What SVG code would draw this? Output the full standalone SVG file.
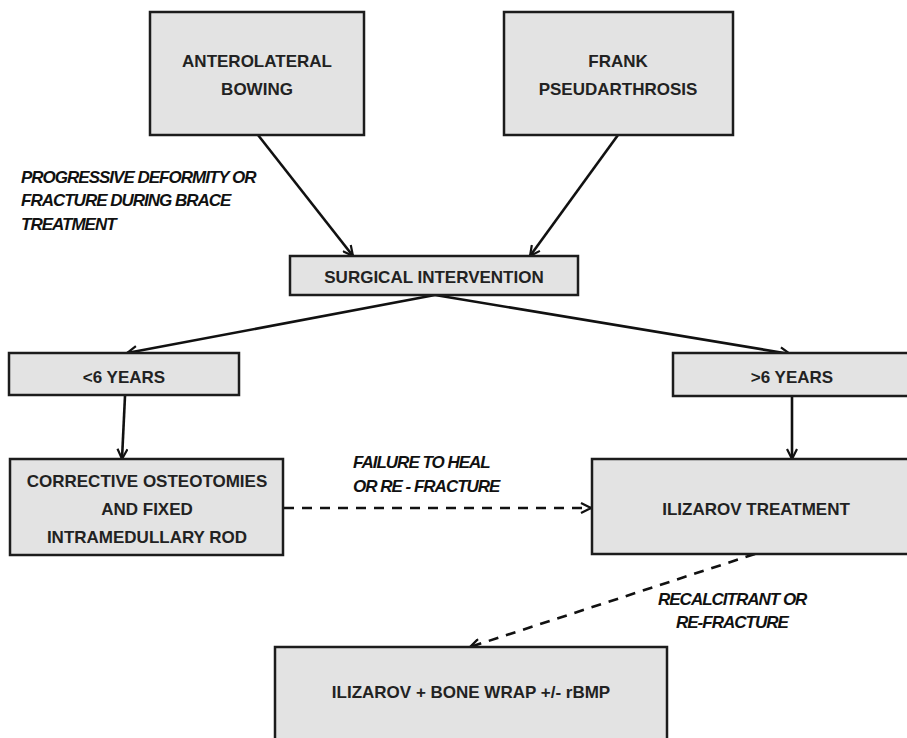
<svg xmlns="http://www.w3.org/2000/svg" width="907" height="738" viewBox="0 0 907 738">
<style>
.box{fill:#e3e3e3;stroke:#1c1c1c;stroke-width:2.5}
.t{font-family:"Liberation Sans",Arial,sans-serif;font-weight:bold;font-size:17px;fill:#222;text-anchor:middle}
.lbl{font-family:"Liberation Sans",Arial,sans-serif;font-weight:bold;font-style:italic;font-size:17px;fill:#111;letter-spacing:-1px}
.c{stroke:#111;stroke-width:2.6;fill:none;marker-end:url(#ah)}
.d{stroke-dasharray:10 8}
</style>
<defs>
<marker id="ah" viewBox="0 0 12 12" refX="11" refY="6" markerWidth="12" markerHeight="12" markerUnits="userSpaceOnUse" orient="auto">
<path d="M1,1 L11,6 L1,11" fill="none" stroke="#111" stroke-width="2.2"/>
</marker>
</defs>
<rect width="907" height="738" fill="#fff"/>
<g id="connectors">
<line class="c" x1="258" y1="135" x2="353" y2="256"/>
<line class="c" x1="618" y1="135" x2="530" y2="256"/>
<line class="c" x1="435" y1="295" x2="127" y2="353"/>
<line class="c" x1="435" y1="295" x2="790" y2="354"/>
<line class="c" x1="125" y1="396" x2="122" y2="459"/>
<line class="c" x1="792" y1="396" x2="792" y2="459"/>
<line class="c d" x1="284" y1="508" x2="591" y2="508"/>
<line class="c d" x1="755" y1="554" x2="470" y2="647"/>
</g>
<g id="label-progressive">
<text class="lbl" x="21" y="183">PROGRESSIVE DEFORMITY OR</text>
<text class="lbl" x="21" y="206">FRACTURE DURING BRACE</text>
<text class="lbl" x="21" y="230">TREATMENT</text>
</g>
<g id="label-failure">
<text class="lbl" x="353" y="468">FAILURE TO HEAL</text>
<text class="lbl" x="353" y="492">OR RE - FRACTURE</text>
</g>
<g id="label-recalcitrant">
<text class="lbl" x="658" y="605">RECALCITRANT OR</text>
<text class="lbl" x="676" y="628">RE-FRACTURE</text>
</g>
<g id="anterolateral">
<rect class="box" x="150" y="12" width="214" height="123"/>
<text class="t" x="257" y="67">ANTEROLATERAL</text>
<text class="t" x="257" y="95">BOWING</text>
</g>
<g id="frank">
<rect class="box" x="504" y="12" width="229" height="123"/>
<text class="t" x="618" y="67">FRANK</text>
<text class="t" x="618" y="95">PSEUDARTHROSIS</text>
</g>
<g id="surgical">
<rect class="box" x="290" y="256" width="288" height="39"/>
<text class="t" x="434" y="283">SURGICAL INTERVENTION</text>
</g>
<g id="under6">
<rect class="box" x="9" y="353" width="230" height="42"/>
<text class="t" x="124" y="383">&lt;6 YEARS</text>
</g>
<g id="over6">
<rect class="box" x="673" y="353" width="240" height="43"/>
<text class="t" x="792" y="383">&gt;6 YEARS</text>
</g>
<g id="corrective">
<rect class="box" x="10" y="459" width="273" height="96"/>
<text class="t" x="147" y="487">CORRECTIVE OSTEOTOMIES</text>
<text class="t" x="147" y="515">AND FIXED</text>
<text class="t" x="147" y="543">INTRAMEDULLARY ROD</text>
</g>
<g id="ilizarov">
<rect class="box" x="592" y="459" width="330" height="95"/>
<text class="t" x="756" y="515">ILIZAROV TREATMENT</text>
</g>
<g id="ilizarov-wrap">
<rect class="box" x="275" y="647" width="392" height="110"/>
<text class="t" x="471" y="698">ILIZAROV + BONE WRAP +/- rBMP</text>
</g>
</svg>
